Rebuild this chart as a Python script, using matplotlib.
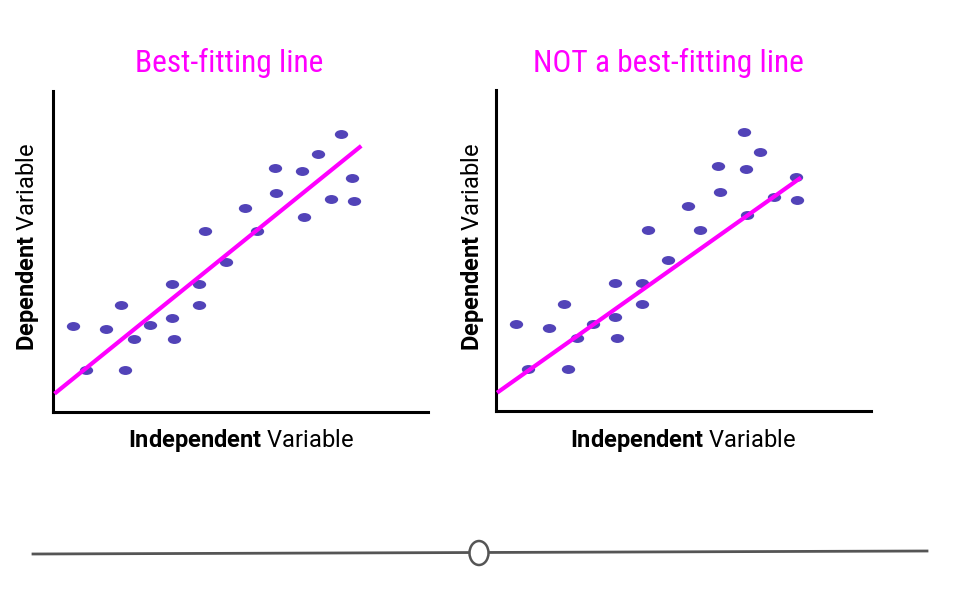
import numpy as np
import matplotlib
matplotlib.use("Agg")
import matplotlib.pyplot as plt
from matplotlib.path import Path
from matplotlib.transforms import Affine2D
from matplotlib.patches import Ellipse
from matplotlib import font_manager

# data (axis units 0-100)
left_x = [5.2, 8.7, 14.2, 18.2, 19.2, 21.7, 25.9, 31.7, 31.7, 32.2, 38.8, 38.8, 40.5,
          46.0, 51.2, 54.4, 59.1, 59.5, 66.5, 66.9, 70.6, 74.0, 76.7, 79.7, 80.3]
left_y = [26.9, 13.0, 25.9, 33.2, 13.0, 22.6, 27.2, 39.9, 29.3, 22.6, 39.9, 33.4, 56.4,
          46.8, 63.6, 56.4, 76.1, 68.2, 75.1, 60.9, 80.4, 66.4, 86.6, 72.8, 65.6]
left_line_x = [0.4, 82.2]
left_line_y = [5.7, 82.9]

right_x = [5.2, 8.6, 14.2, 18.2, 19.2, 21.7, 25.8, 31.8, 31.8, 32.3, 38.8, 38.8, 40.5,
           45.9, 51.2, 54.4, 59.2, 59.6, 66.0, 66.6, 67.0, 70.5, 74.0, 79.9, 80.3]
right_y = [27.0, 13.0, 25.9, 33.2, 13.0, 22.6, 27.2, 39.9, 29.4, 22.6, 39.9, 33.4, 56.4,
           46.9, 63.8, 56.4, 76.2, 68.3, 86.8, 75.4, 61.1, 80.6, 66.6, 73.0, 65.7]
right_line_x = [0.3, 81.3]
right_line_y = [5.7, 72.7]

titles = ["Best-fitting line", "NOT a best-fitting line"]
xlabel = r"$\mathbf{Independent}$ Variable"
ylabel = r"$\mathbf{Dependent}$ Variable"

names = {f.name for f in font_manager.fontManager.ttflist}
title_font = "Roboto Condensed" if "Roboto Condensed" in names else "Roboto"

plt.rcParams["font.family"] = ["Roboto", "DejaVu Sans"]
plt.rcParams["mathtext.fontset"] = "custom"
plt.rcParams["mathtext.rm"] = "Roboto"
plt.rcParams["mathtext.bf"] = "Roboto:bold"

W, H = 960, 600
fig = plt.figure(figsize=(9.6, 6), dpi=100)

dot = Path.unit_circle().transformed(Affine2D().scale(1, 0.67))
dot_color = "#5243b8"
magenta = "#ff00ff"

panels = [
    (53, 412, left_x, left_y, left_line_x, left_line_y, 229, 28, 241),
    (496, 411, right_x, right_y, right_line_x, right_line_y, 668, 472, 683),
]

for i, (px, pb, xs, ys, lx, ly, tx, ylx, xlx) in enumerate(panels):
    ax = fig.add_axes([px / W, 1 - pb / H, 375 / W, 321 / H])
    ax.scatter(xs, ys, s=92, marker=dot, color=dot_color, linewidths=0, zorder=2)
    ax.plot(lx, ly, color=magenta, lw=3, solid_capstyle="butt", zorder=3)
    ax.set_xlim(0, 100)
    ax.set_ylim(0, 100)
    ax.set_xticks([])
    ax.set_yticks([])
    for side in ["top", "right"]:
        ax.spines[side].set_visible(False)
    for side in ["left", "bottom"]:
        ax.spines[side].set_linewidth(2.2)
        ax.spines[side].set_color("black")

    fig.text(tx / W, 1 - 72 / H, titles[i], color=magenta, fontsize=22.6,
             family=[title_font, "DejaVu Sans"], ha="center", va="baseline")
    fig.text(xlx / W, 1 - 447 / H, xlabel, fontsize=17, color="black",
             ha="center", va="baseline")
    fig.text(ylx / W, 1 - 247 / H, ylabel, fontsize=17, color="black",
             rotation=90, ha="center", va="center")

# slider at the bottom
sl = fig.add_axes([0, 0, 1, 1])
sl.set_xlim(0, W)
sl.set_ylim(H, 0)
sl.axis("off")
sl.plot([33, 927], [554, 551], color="#555555", lw=2, zorder=1)
sl.add_patch(Ellipse((479, 553), 19, 24, facecolor="white", edgecolor="#555555",
                     lw=1.8, zorder=2))

fig.savefig("out.png", dpi=100)
